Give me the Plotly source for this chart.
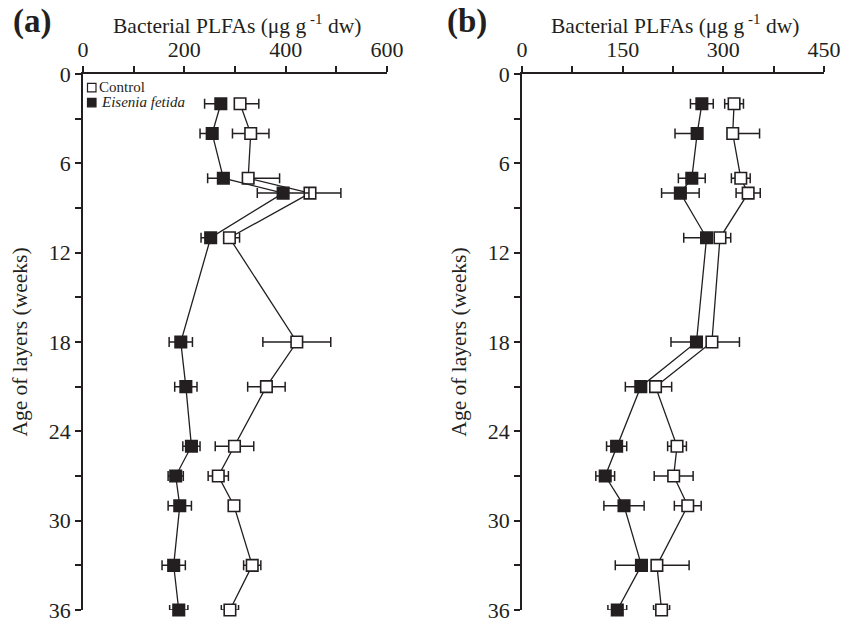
import plotly.graph_objects as go

weeks = [2, 4, 7, 8, 11, 18, 21, 25, 27, 29, 33, 36]

# Panel (a)
ctrl_a = [310, 331, 326, 448, 289, 422, 362, 299, 267, 298, 334, 290]
ctrl_a_plus = [37, 36, 62, 61, 20, 67, 37, 38, 20, 0, 17, 17]
ctrl_a_minus = [0, 36, 0, 0, 0, 67, 37, 38, 20, 0, 17, 17]
eis_a = [272, 255, 277, 395, 252, 193, 203, 214, 183, 191, 179, 189]
eis_a_plus = [0, 0, 0, 51, 0, 23, 22, 17, 15, 23, 23, 18]
eis_a_minus = [32, 24, 31, 51, 19, 23, 22, 17, 15, 23, 23, 18]

# Panel (b)
ctrl_b = [316, 314, 326, 337, 295, 283, 199, 231, 226, 247, 201, 208]
ctrl_b_plus = [14, 40, 14, 18, 16, 41, 24, 14, 29, 20, 48, 12]
ctrl_b_minus = [14, 0, 14, 18, 0, 0, 0, 14, 29, 20, 0, 12]
eis_b = [268, 261, 253, 236, 275, 260, 177, 141, 124, 152, 178, 142]
eis_b_plus = [17, 0, 20, 28, 0, 0, 0, 15, 14, 30, 0, 14]
eis_b_minus = [17, 33, 20, 28, 34, 38, 23, 15, 14, 30, 39, 14]

xticks_a = [0, 100, 200, 300, 400, 500, 600]
xtext_a = ["0", "", "200", "", "400", "", "600"]
xticks_b = [0, 75, 150, 225, 300, 375, 450]
xtext_b = ["0", "", "150", "", "300", "", "450"]
yticks = [0, 3, 6, 9, 12, 15, 18, 21, 24, 27, 30, 33, 36]
ytext = ["0", "", "6", "", "12", "", "18", "", "24", "", "30", "", "36"]

legend_names = ["Control", "<i>Eisenia fetida</i>"]
x_title = "Bacterial PLFAs (μg g<sup> -1</sup> dw)"
y_title = "Age of layers (weeks)"

BLACK = "#231f20"
FONT = "Liberation Serif, Times New Roman, Times, serif"

W, H = 845, 625
ML, MR, MT, MB = 83, 21, 74, 15
PW, PH = W - ML - MR, H - MT - MB

def px(xp):
    return (xp - ML) / PW

def py(yp):
    return (H - MB - yp) / PH

fig = go.Figure()

def add_series(x, plus, minus, xa, ya, filled, name):
    fig.add_trace(go.Scatter(
        x=x, y=weeks, xaxis=xa, yaxis=ya, mode="lines+markers",
        name=name, showlegend=False, cliponaxis=False,
        line=dict(color=BLACK, width=1.3),
        marker=dict(symbol="square", size=11.5,
                    color=BLACK if filled else "white",
                    line=dict(color=BLACK, width=1.6)),
        error_x=dict(type="data", symmetric=False, array=plus, arrayminus=minus,
                     color=BLACK, thickness=1.5, width=5),
    ))

add_series(ctrl_a, ctrl_a_plus, ctrl_a_minus, "x", "y", False, "Control")
add_series(eis_a, eis_a_plus, eis_a_minus, "x", "y", True, "Eisenia fetida")
add_series(ctrl_b, ctrl_b_plus, ctrl_b_minus, "x2", "y2", False, "Control")
add_series(eis_b, eis_b_plus, eis_b_minus, "x2", "y2", True, "Eisenia fetida")

axis_common = dict(showline=True, linecolor=BLACK, linewidth=1.5, ticks="outside",
                   ticklen=6, tickwidth=1.5, tickcolor=BLACK, showgrid=False,
                   zeroline=False, automargin=False,
                   tickfont=dict(family=FONT, size=22, color=BLACK))

ytitle = dict(text=y_title, font=dict(family=FONT, size=21.5, color=BLACK))

# manual legend (panel a, top-left)
shapes = []
annotations = []
leg_rows = [(87.5, 83.3, 87.0, 97, False), (87.5, 98.3, 102.5, 99, True)]
for (x0, y0, ty, tx, filled), name in zip(leg_rows, legend_names):
    shapes.append(dict(type="rect", xref="paper", yref="paper",
                       x0=px(x0), x1=px(x0 + 8.5), y0=py(y0), y1=py(y0 + 8.5),
                       line=dict(color=BLACK, width=1.2),
                       fillcolor=BLACK if filled else "white"))
    annotations.append(dict(text=name, xref="paper", yref="paper", x=px(tx), y=py(ty),
                            xanchor="left", yanchor="middle", showarrow=False,
                            font=dict(family=FONT, size=15, color=BLACK)))

annotations += [
    dict(text="<b>(a)</b>", xref="paper", yref="paper", x=px(11), y=py(21.5),
         xanchor="left", yanchor="middle", showarrow=False,
         font=dict(family=FONT, size=33, color=BLACK)),
    dict(text="<b>(b)</b>", xref="paper", yref="paper", x=px(445), y=py(21.5),
         xanchor="left", yanchor="middle", showarrow=False,
         font=dict(family=FONT, size=33, color=BLACK)),
    dict(text=x_title, xref="paper", yref="paper", x=px((83 + 387) / 2 + 2), y=py(25),
         xanchor="center", yanchor="middle", showarrow=False,
         font=dict(family=FONT, size=21.5, color=BLACK)),
    dict(text=x_title, xref="paper", yref="paper", x=px((522 + 824) / 2 + 2), y=py(25),
         xanchor="center", yanchor="middle", showarrow=False,
         font=dict(family=FONT, size=21.5, color=BLACK)),
]

fig.update_layout(
    width=W, height=H,
    margin=dict(l=ML, r=MR, t=MT, b=MB),
    paper_bgcolor="white", plot_bgcolor="white",
    showlegend=False,
    xaxis=dict(domain=[0, px(387)], range=[0, 600], side="top",
               tickvals=xticks_a, ticktext=xtext_a, anchor="y", **axis_common),
    yaxis=dict(domain=[0, 1], range=[36, 0], tickvals=yticks, ticktext=ytext,
               title=ytitle, anchor="x", **axis_common),
    xaxis2=dict(domain=[px(522), 1.0], range=[0, 450], side="top",
                tickvals=xticks_b, ticktext=xtext_b, anchor="y2", **axis_common),
    yaxis2=dict(domain=[0, 1], range=[36, 0], tickvals=yticks, ticktext=ytext,
                title=ytitle, anchor="x2", **axis_common),
    shapes=shapes,
    annotations=annotations,
)

fig.write_html("out.html", config={"displayModeBar": False},
               post_script="document.body.style.margin='0px';document.body.style.overflow='hidden';")
